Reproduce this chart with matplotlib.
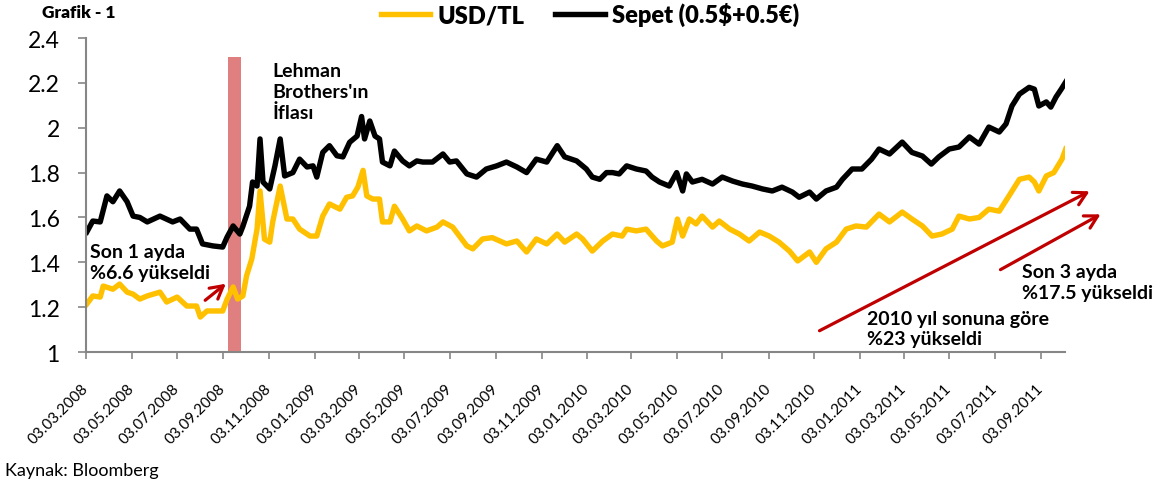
import numpy as np
import pandas as pd
import matplotlib
matplotlib.use("Agg")
import matplotlib.pyplot as plt
import matplotlib.dates as mdates

plt.rcParams['font.family'] = ['Lato', 'DejaVu Sans']

# days since 03.03.2008 -> value
usd_days = [1, 9, 19, 23, 36, 45, 55, 63, 72, 82, 99, 108, 122, 135, 148, 153, 162, 175, 183, 189,
            197, 203, 210, 215, 222, 229, 233, 239, 246, 250, 260, 269, 277, 286, 300, 309, 317, 326,
            340, 349, 357, 364, 371, 376, 384, 393, 397, 407, 413, 424, 433, 443, 456, 470, 478, 491,
            510, 518, 531, 544, 563, 577, 590, 603, 617, 631, 641, 657, 665, 678, 692, 705, 718, 724,
            737, 750, 764, 772, 785, 792, 799, 808, 817, 825, 839, 848, 862, 875, 888, 902, 915, 928,
            942, 953, 969, 978, 991, 1005, 1018, 1031, 1045, 1062, 1076, 1093, 1106, 1120, 1133, 1146,
            1160, 1169, 1183, 1196, 1209, 1223, 1236, 1250, 1263, 1270, 1276, 1286, 1296, 1307, 1312]
usd_tl = [1.214, 1.25, 1.245, 1.294, 1.28, 1.303, 1.267, 1.258, 1.236, 1.25, 1.267, 1.223, 1.245, 1.205,
          1.205, 1.156, 1.183, 1.183, 1.183, 1.236, 1.29, 1.236, 1.25, 1.34, 1.415, 1.548, 1.718, 1.503,
          1.49, 1.58, 1.74, 1.593, 1.593, 1.548, 1.517, 1.517, 1.606, 1.66,
          1.637, 1.69, 1.696, 1.735, 1.81, 1.696, 1.682, 1.682, 1.58, 1.58, 1.65, 1.593, 1.54, 1.562,
          1.54, 1.557, 1.58, 1.557, 1.473, 1.46, 1.504, 1.51, 1.482, 1.495, 1.446, 1.504, 1.482, 1.526,
          1.49, 1.526, 1.504, 1.45, 1.495, 1.526, 1.517, 1.548, 1.54, 1.548, 1.495, 1.473, 1.49, 1.593,
          1.517, 1.593, 1.571, 1.606, 1.557, 1.584, 1.548, 1.526, 1.495, 1.535, 1.517, 1.49, 1.45, 1.406,
          1.446, 1.40, 1.46, 1.49, 1.548, 1.562, 1.557, 1.615, 1.58, 1.624, 1.593, 1.562, 1.517, 1.526,
          1.548, 1.606, 1.593, 1.60, 1.637, 1.628, 1.696, 1.77, 1.78, 1.758, 1.718, 1.785, 1.80, 1.86, 1.905]

basket_days = [1, 9, 19, 28, 36, 45, 55, 63, 72, 82, 99, 116, 126, 139, 148, 156, 170, 183, 189, 197,
               206, 210, 219, 223, 229, 233, 237, 246, 253, 260, 266, 277, 286, 296, 304, 309, 317, 326,
               336, 344, 353, 363, 369, 373, 380, 387, 393, 397, 407, 413, 424, 433, 443, 451, 464, 478,
               487, 496, 510, 523, 536, 550, 563, 577, 590, 603, 617, 631, 641,
               657, 670, 678, 688, 697, 705, 714, 724, 737, 750, 758, 768, 781, 791, 799, 804, 812, 825,
               839, 852, 866, 879, 892, 906, 919, 932, 946, 955,
               969, 978, 991, 1005, 1013, 1026, 1039, 1052, 1062, 1076, 1093, 1106, 1120, 1132, 1142, 1156,
               1169, 1183, 1196, 1209, 1223, 1232, 1240, 1250, 1263, 1270, 1276, 1286, 1292, 1299, 1306, 1312]
basket = [1.535, 1.584, 1.58, 1.696, 1.67, 1.718, 1.67, 1.606, 1.60, 1.58, 1.606, 1.58, 1.593, 1.548,
          1.548, 1.482, 1.473, 1.468, 1.513, 1.562, 1.526, 1.56, 1.65, 1.758, 1.74, 1.95, 1.758, 1.727,
          1.83, 1.95, 1.785, 1.80, 1.86, 1.825, 1.83, 1.78, 1.89, 1.92,
          1.875, 1.87, 1.935, 1.963, 2.05, 1.95, 2.03, 1.963, 1.95, 1.847, 1.83, 1.896, 1.852, 1.83,
          1.852, 1.847, 1.847, 1.883, 1.847, 1.852, 1.794, 1.78, 1.816, 1.83, 1.847, 1.825, 1.80, 1.86,
          1.847, 1.92, 1.87,
          1.852, 1.816, 1.78, 1.77, 1.80, 1.80, 1.794, 1.83, 1.816, 1.807, 1.78, 1.758, 1.74, 1.80,
          1.718, 1.794, 1.758, 1.77, 1.749, 1.78, 1.762, 1.749, 1.74, 1.727, 1.718, 1.735, 1.713, 1.69,
          1.713, 1.682, 1.718, 1.735, 1.77, 1.816, 1.816, 1.86, 1.905, 1.883, 1.936, 1.89, 1.874, 1.838,
          1.87, 1.905, 1.914, 1.959, 1.927, 2.003, 1.981, 2.017, 2.097, 2.15, 2.18, 2.172, 2.097, 2.115,
          2.092, 2.137, 2.172, 2.204]

start = pd.Timestamp('2008-03-03')
usd_dates = start + pd.to_timedelta(usd_days, unit='D')
basket_dates = start + pd.to_timedelta(basket_days, unit='D')

# Lehman window
lehman_start = pd.Timestamp('2008-09-09')
lehman_end = pd.Timestamp('2008-09-26')

fig = plt.figure(figsize=(11.61, 4.89), dpi=100)
ax = fig.add_axes([0.0741, 0.2781, 0.8432, 0.6421])

ax.plot(usd_dates, usd_tl, color='#FFC000', lw=3.9, label='USD/TL', solid_joinstyle='round')
ax.plot(basket_dates, basket, color='black', lw=3.9, label='Sepet (0.5$+0.5€)', solid_joinstyle='round')

ax.axvspan(lehman_start, lehman_end, ymin=0, ymax=(2.315 - 1) / 1.4, color='#C00000', alpha=0.5, lw=0)

ax.set_ylim(1, 2.4)
ax.set_yticks([1, 1.2, 1.4, 1.6, 1.8, 2, 2.2, 2.4])
ax.set_yticklabels(['1', '1.2', '1.4', '1.6', '1.8', '2', '2.2', '2.4'])
ax.set_xlim(start, start + pd.Timedelta(days=1311))
ax.xaxis.set_major_locator(mdates.MonthLocator(bymonth=(1, 3, 5, 7, 9, 11), bymonthday=3))
ax.xaxis.set_major_formatter(mdates.DateFormatter('%d.%m.%Y'))

for s in ['top', 'right']:
    ax.spines[s].set_visible(False)
for s in ['left', 'bottom']:
    ax.spines[s].set_color('#868686')
    ax.spines[s].set_linewidth(1.5)
ax.tick_params(axis='y', length=6, width=1.2, color='#868686', labelsize=16.5, pad=13)
ax.tick_params(axis='x', length=5, width=1.2, color='#868686', labelsize=11, pad=19)
plt.setp(ax.get_xticklabels(), rotation=45, ha='right', va='center', rotation_mode='anchor')

# annotations
red = '#C00000'
ax.text(0.190, 0.9236, "Lehman\nBrothers'ın\nİflası", transform=ax.transAxes, fontsize=14,
        fontweight='bold', va='top', ha='left', linespacing=1.25)
ax.text(0.004, 0.3471, "Son 1 ayda\n%6.6 yükseldi", transform=ax.transAxes, fontsize=14,
        fontweight='bold', va='top', ha='left', linespacing=1.25)
ax.text(0.956, 0.2834, "Son 3 ayda\n%17.5 yükseldi", transform=ax.transAxes, fontsize=14,
        fontweight='bold', va='top', ha='left', linespacing=1.25)
ax.text(0.7978, 0.1338, "2010 yıl sonuna göre\n%23 yükseldi", transform=ax.transAxes, fontsize=14,
        fontweight='bold', va='top', ha='left', linespacing=1.25)

arrow = dict(arrowstyle='->,head_length=0.9,head_width=0.5', color=red, lw=2.3)
ax.annotate('', xy=(0.1450, 0.2229), xytext=(0.1195, 0.1592), xycoords='axes fraction',
            arrowprops=arrow, annotation_clip=False)
ax.annotate('', xy=(1.0276, 0.5159), xytext=(0.7467, 0.0637), xycoords='axes fraction',
            arrowprops=arrow, annotation_clip=False)
ax.annotate('', xy=(1.0388, 0.4427), xytext=(0.9316, 0.2580), xycoords='axes fraction',
            arrowprops=arrow, annotation_clip=False)

leg = fig.legend(loc='center', bbox_to_anchor=(0.508, 0.969), ncol=2, frameon=False,
                 fontsize=17, handlelength=2.1, handletextpad=0.3, columnspacing=1.3)
for t in leg.get_texts():
    t.set_fontweight('heavy')

fig.text(0.036, 0.99, 'Grafik - 1', fontsize=12.5, fontweight='heavy', va='top', ha='left')
fig.text(0.004, 0.0368, 'Kaynak: Bloomberg', fontsize=13, va='center', ha='left')

fig.savefig('out.png', dpi=100)
